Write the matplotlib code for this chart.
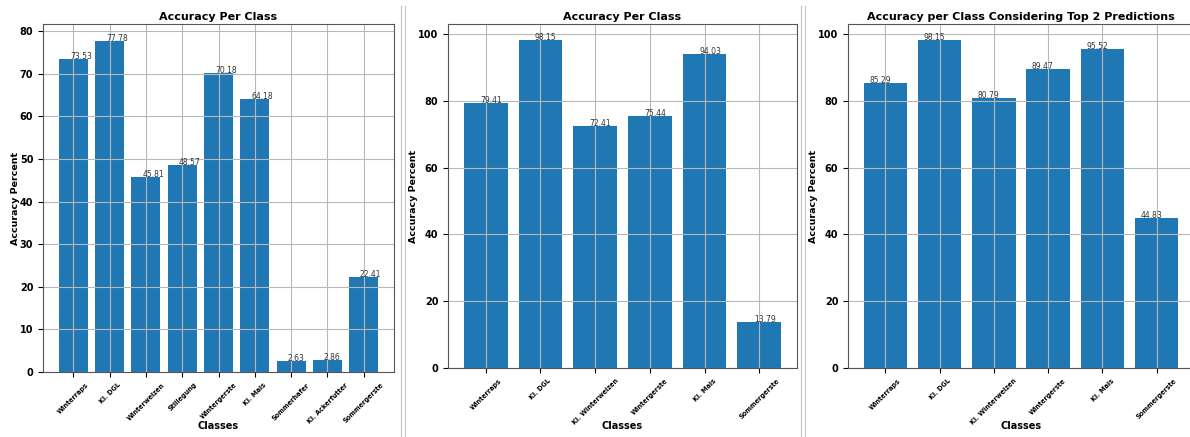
import matplotlib
matplotlib.use("Agg")
import matplotlib.pyplot as plt
from matplotlib.lines import Line2D

# accuracy over all nine classes
classes_all = ['Winterraps', 'Kl. DGL', 'Winterweizen', 'Stillegung', 'Wintergerste',
               'Kl. Mais', 'Sommerhafer', 'Kl. Ackerfutter', 'Sommergerste']
acc_all = [73.53, 77.78, 45.81, 48.57, 70.18, 64.18, 2.63, 2.86, 22.41]

# reduced six-class model
classes_six = ['Winterraps', 'Kl. DGL', 'Kl. Winterweizen', 'Wintergerste', 'Kl. Mais', 'Sommergerste']
acc_six = [79.41, 98.15, 72.41, 75.44, 94.03, 13.79]
acc_six_top2 = [85.29, 98.15, 80.79, 89.47, 95.52, 44.83]

W, H = 1190, 437


def draw_panel(ax, box, labels, values, title, text_shift, ylabel_x):
    """Bar chart of per-class accuracy with the value written above each bar."""
    left, top, right, bottom = box
    x = range(len(labels))
    ax.bar(x, values, color='#1f77b4')
    for i, v in enumerate(values):
        ax.text(i - text_shift, v, str(v), fontsize=5.5, color='#333333')
    ax.set_xticks(list(x))
    ax.set_xticklabels(labels, rotation=45, fontsize=4.7, fontweight='bold')
    for lab in ax.get_yticklabels():
        lab.set_fontweight('bold')
    ax.tick_params(axis='y', labelsize=7)
    ax.set_title(title, fontsize=8, fontweight='bold', pad=3)
    ax.set_xlabel('Classes', fontsize=7, fontweight='bold')
    ax.set_ylabel('Accuracy Percent', fontsize=6.8, fontweight='bold')
    # label positions given in pixels, converted to axes fractions
    ax.xaxis.set_label_coords(0.5, (bottom - 421) / (bottom - top))
    ax.yaxis.set_label_coords((ylabel_x - left) / (right - left), 0.5)
    ax.grid(True, color='#b8b8b8', linewidth=0.8)
    for sp in ax.spines.values():
        sp.set_color('#555555')


def px_rect(box):
    left, top, right, bottom = box
    return [left / W, 1 - bottom / H, (right - left) / W, (bottom - top) / H]


fig = plt.figure(figsize=(W / 100, H / 100), dpi=100)

box1 = (43, 24, 394, 372)
ax1 = fig.add_axes(px_rect(box1))
draw_panel(ax1, box1, classes_all, acc_all, 'Accuracy Per Class', 0.1, 20)

box2 = (448, 24, 797, 368)
ax2 = fig.add_axes(px_rect(box2))
draw_panel(ax2, box2, classes_six, acc_six, 'Accuracy Per Class', 0.1, 418)
ax2.set_yticks([0, 20, 40, 60, 80, 100])

box3 = (848, 24, 1194, 368)
ax3 = fig.add_axes(px_rect(box3))
draw_panel(ax3, box3, classes_six, acc_six_top2,
           'Accuracy per Class Considering Top 2 Predictions', 0.3, 818)
ax3.set_yticks([0, 20, 40, 60, 80, 100])

# thin double dividers between the panels
for xp in [400.5, 404.5, 800.5, 804.5]:
    fig.add_artist(Line2D([xp / W, xp / W], [0, 1 - 6 / H], color='#c8c8c8', linewidth=0.9))

fig.savefig('out.png', dpi=100)
